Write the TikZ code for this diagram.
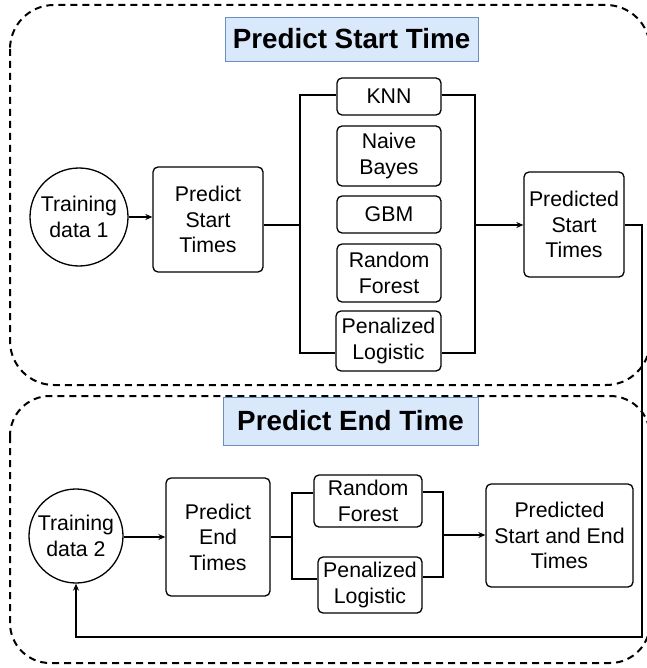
\documentclass[tikz,border=0pt]{standalone}
\usepackage{fontspec}
\setmainfont{Liberation Sans}
\usetikzlibrary{arrows.meta}
\definecolor{titlefill}{HTML}{DAE8FC}
\definecolor{titledraw}{HTML}{6C8EBF}
\begin{document}
\begin{tikzpicture}[x=1pt,y=-1pt,
  container/.style={draw,line width=2pt,dash pattern=on 7pt off 5pt},
  titlebox/.style={draw=titledraw,fill=titlefill,line width=0.8pt,inner sep=0pt,font=\fontsize{27.8}{30}\selectfont\bfseries},
  procbox/.style={draw,line width=1.3pt,rounded corners=5pt,align=center,inner sep=0pt,font=\fontsize{21.3}{25.5}\selectfont},
  datacirc/.style={draw,circle,line width=1.3pt,align=center,inner sep=0pt,font=\fontsize{21.3}{25.5}\selectfont},
  conn/.style={line width=1.2pt},
  arr/.style={line width=1.2pt,-{Stealth[length=7pt,width=6pt]}}]
\useasboundingbox (0,0) rectangle (646,668);
% containers
\draw[container,rounded corners=44pt] (10,5) rectangle (650,385);
\draw[container,rounded corners=40pt] (10,396) rectangle (650,663);
% titles
\node[titlebox,minimum width=253pt,minimum height=44pt] (t1) at (351.5,39) {Predict Start Time};
\node[titlebox,minimum width=255pt,minimum height=48pt] (t2) at (350.5,421) {Predict End Time};
% top section
\node[datacirc,minimum size=98pt] (td1) at (79,217) {Training\\data 1};
\node[procbox,minimum width=110pt,minimum height=105pt] (pst) at (208,219.5) {Predict\\Start\\Times};
\node[procbox,minimum width=104pt,minimum height=37pt] (knn) at (389,96.5) {KNN};
\node[procbox,minimum width=104pt,minimum height=60pt] (nb) at (389,156) {Naive\\Bayes};
\node[procbox,minimum width=104pt,minimum height=37pt] (gbm) at (389,214.5) {GBM};
\node[procbox,minimum width=104pt,minimum height=58pt] (rf) at (389,273) {Random\\Forest};
\node[procbox,minimum width=105pt,minimum height=60pt] (pl) at (388.5,341) {Penalized\\Logistic};
\node[procbox,minimum width=100pt,minimum height=105pt] (pst2) at (574,224.5) {Predicted\\Start\\Times};
\coordinate (b1l) at (300,225);
\coordinate (b1r) at (475,225);
\draw[arr] (td1.east) -- (pst.west |- td1.east);
\draw[conn] (pst.east |- b1l) -- (b1l);
\draw[conn] (knn.west |- 0,95) -| (300,353) -- (pl.west |- 0,353);
\draw[conn] (knn.east |- 0,95) -| (475,353) -- (pl.east |- 0,353);
\draw[arr] (b1r) -- (pst2.west |- b1r);
% bottom section
\node[datacirc,minimum size=94pt] (td2) at (76,536) {Training\\data 2};
\node[procbox,minimum width=104pt,minimum height=118pt] (pet) at (218,537) {Predict\\End\\Times};
\node[procbox,minimum width=108pt,minimum height=52pt] (rf2) at (368,501) {Random\\Forest};
\node[procbox,minimum width=104pt,minimum height=56pt] (pl2) at (370,585) {Penalized\\Logistic};
\node[procbox,minimum width=147pt,minimum height=103pt] (pse) at (559.5,535.5) {Predicted\\Start and End\\Times};
\coordinate (b2l) at (292,537);
\coordinate (b2r) at (443,535);
\draw[arr] (td2.east |- pet.west) -- (pet.west);
\draw[conn] (pet.east |- b2l) -- (b2l);
\draw[conn] (rf2.west |- 0,493) -| (292,579) -- (pl2.west |- 0,579);
\draw[conn] (rf2.east |- 0,492) -| (443,577) -- (pl2.east |- 0,577);
\draw[arr] (b2r) -- (pse.west |- b2r);
% feedback
\draw[arr] (pst2.east |- b1l) -- (642,225) |- (76,637) -- (td2.south);
\end{tikzpicture}
\end{document}
